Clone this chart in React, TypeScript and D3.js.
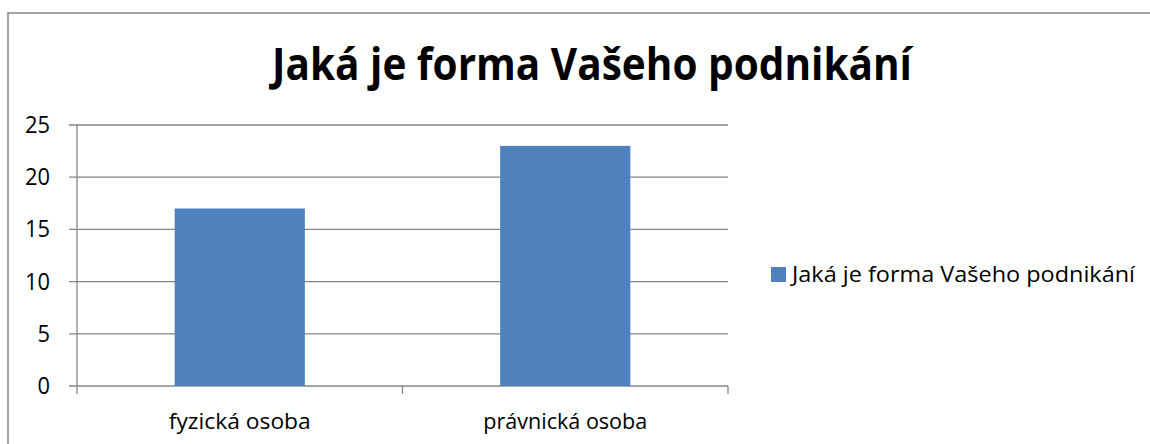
import React from "react";
import * as d3 from "d3";

const categories = ["fyzická osoba", "právnická osoba"];
const values = [17, 23];
const yTicks = [0, 5, 10, 15, 20, 25];
const title = "Jaká je forma Vašeho podnikání";
const seriesName = "Jaká je forma Vašeho podnikání";

export default function App() {
  const W = 1150, H = 444;
  const left = 77, right = 728, top = 125, bottom = 386;
  const x = d3.scaleBand().domain(categories).range([left, right]).paddingInner(0.6).paddingOuter(0.3);
  const y = d3.scaleLinear().domain([0, 25]).range([bottom, top]);
  const font = "Open Sans, Noto Sans, sans-serif";
  const grid = "#868686";
  const xb = d3.scaleBand().domain(categories).range([left, right]);
  const catLen = [142, 164];
  return (
    <svg width={W} height={H} style={{ position: "absolute", left: 0, top: 0 }}>
      <rect x={0} y={0} width={W} height={H} fill="#fff" />
      <rect x={8} y={13} width={1160} height={460} fill="none" stroke={grid} strokeWidth={1.5} />
      <text x={592} y={80} textAnchor="middle" fontFamily={font} fontWeight="bold" fontSize={45}
        textLength={640} lengthAdjust="spacingAndGlyphs">{title}</text>
      {yTicks.map((t) => (
        <g key={t}>
          <line x1={69} x2={right} y1={y(t)} y2={y(t)} stroke={grid} strokeWidth={1.3} />
          <text x={50} y={y(t) + 8} textAnchor="end" fontFamily={font} fontSize={23}
            textLength={String(t).length * 12.5} lengthAdjust="spacingAndGlyphs">{t}</text>
        </g>
      ))}
      <line x1={left} x2={left} y1={top} y2={bottom + 8} stroke={grid} strokeWidth={1.3} />
      {categories.map((c) => (
        <line key={"t" + c} x1={(xb(c) as number) + xb.bandwidth()} x2={(xb(c) as number) + xb.bandwidth()} y1={bottom} y2={bottom + 8} stroke={grid} strokeWidth={1.3} />
      ))}
      {categories.map((c, i) => (
        <rect key={c} x={x(c)} y={y(values[i])} width={x.bandwidth()} height={bottom - y(values[i])} fill="#4F81BD" />
      ))}
      {categories.map((c, i) => (
        <text key={"l" + c} x={(xb(c) as number) + xb.bandwidth() / 2} y={429} textAnchor="middle" fontFamily={font} fontSize={22}
          textLength={catLen[i]} lengthAdjust="spacingAndGlyphs">{c}</text>
      ))}
      <rect x={771} y={267} width={15} height={15} fill="#4F81BD" />
      <text x={792} y={282} fontFamily={font} fontSize={22} textLength={343} lengthAdjust="spacingAndGlyphs">{seriesName}</text>
    </svg>
  );
}
